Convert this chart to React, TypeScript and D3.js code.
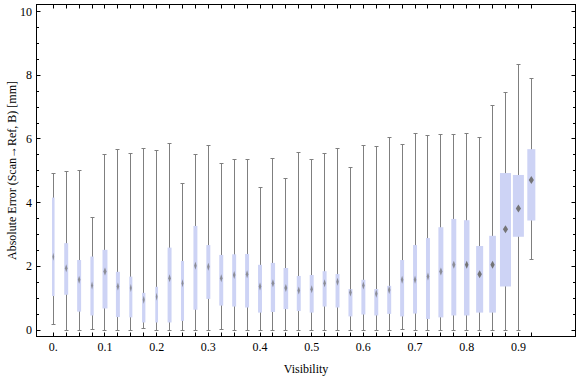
import React from "react";
import * as d3 from "d3";

// visibility bins (box positions)
const positions: number[] = d3.range(38).map((i) => +(i * 0.025).toFixed(3));
const mins: number[] = [0.19, 0, 0, 0.03, 0, 0, 0, 0.05, 0, 0, 0, 0, 0, 0.03, 0, 0, 0, 0, 0, 0, 0, 0, 0, 0, 0, 0, 0, 0.03, 0, 0, 0, 0, 0, 0, 0, 0, 0, 2.23];
const q1s: number[] = [1.07, 1.11, 0.58, 0.46, 0.68, 0.41, 0.4, 0.24, 0.24, 0.24, 0.29, 0.64, 0.98, 0.77, 0.74, 0.71, 0.55, 0.57, 0.66, 0.6, 0.55, 0.74, 0.71, 0.43, 0.49, 0.46, 0.51, 0.43, 0.52, 0.35, 0.4, 0.46, 0.46, 0.55, 0.55, 1.37, 2.93, 3.44];
const medians: number[] = [2.3, 1.94, 1.58, 1.4, 1.84, 1.37, 1.32, 0.95, 1.05, 1.63, 1.47, 2.02, 1.99, 1.63, 1.73, 1.75, 1.37, 1.47, 1.32, 1.24, 1.28, 1.47, 1.52, 1.18, 1.4, 1.14, 1.26, 1.58, 1.58, 1.68, 1.84, 2.05, 2.05, 1.75, 2.05, 3.17, 3.82, 4.71];
const q3s: number[] = [4.16, 2.73, 2.2, 2.31, 2.52, 1.83, 1.68, 1.17, 1.36, 2.59, 2.17, 3.27, 2.67, 2.36, 2.38, 2.39, 2.05, 2.11, 1.95, 1.7, 1.73, 1.85, 1.76, 1.29, 1.58, 1.29, 1.39, 2.2, 2.67, 2.89, 3.23, 3.49, 3.45, 2.64, 2.96, 4.93, 4.87, 5.68];
const maxs: number[] = [4.92, 4.97, 5.02, 3.54, 5.52, 5.67, 5.53, 5.7, 5.63, 5.86, 4.59, 5.5, 5.78, 5.23, 5.34, 5.37, 4.48, 5.39, 4.76, 5.58, 5.37, 5.55, 5.7, 5.11, 5.8, 5.75, 6.05, 5.83, 6.18, 6.11, 6.14, 6.14, 6.18, 6.05, 7.06, 7.46, 8.34, 7.9];
// relative box weights (box width is proportional)
const weights: number[] = [0.23, 0.36, 0.36, 0.3, 0.45, 0.36, 0.28, 0.3, 0.25, 0.36, 0.28, 0.36, 0.36, 0.36, 0.36, 0.36, 0.36, 0.39, 0.42, 0.36, 0.36, 0.36, 0.36, 0.36, 0.36, 0.36, 0.36, 0.36, 0.36, 0.36, 0.45, 0.45, 0.5, 0.64, 0.61, 1, 1, 0.73];

const xTickLabels: number[] = [0, 0.1, 0.2, 0.3, 0.4, 0.5, 0.6, 0.7, 0.8, 0.9];
const yTickLabels: number[] = [0, 2, 4, 6, 8, 10];
const yMinorTicks: number[] = d3.range(0, 10.01, 0.5);

const W = 576;
const H = 377;
const L = 36.5, R = 575.5, T = 4.5, B = 336.5;

export default function App() {
  const x = d3.scaleLinear().domain([-0.0325, 1.0105]).range([L, R]);
  const y = d3.scaleLinear().domain([-0.2, 10.22]).range([B, T]);
  const wScale = d3.scaleLinear().domain([0, 1]).range([0, 11]);
  const font = "'Liberation Serif', 'Times New Roman', serif";
  const fmt = (v: number) => (v === 0 ? "0." : String(v));
  const snap = (v: number) => Math.round(v) + 0.5;

  return (
    <svg width={W} height={H} style={{ position: "absolute", left: 0, top: 0, background: "#fff" }}>
      <rect x={0} y={0} width={W} height={H} fill="#fff" />
      {positions.map((p, i) => {
        const cx = x(p);
        const bw = wScale(weights[i]);
        const lx = snap(cx - 0.5);
        const dw = Math.min(2.6, Math.max(0.9, bw * 0.32));
        const my = y(medians[i]);
        return (
          <g key={i}>
            <line x1={lx} x2={lx} y1={y(mins[i])} y2={y(maxs[i])} stroke="#7f7f7f" strokeWidth={1} />
            <line x1={lx - 2} x2={lx + 2} y1={snap(y(mins[i]) - 0.5)} y2={snap(y(mins[i]) - 0.5)} stroke="#7f7f7f" strokeWidth={1} />
            <line x1={lx - 2} x2={lx + 2} y1={snap(y(maxs[i]) - 0.5)} y2={snap(y(maxs[i]) - 0.5)} stroke="#7f7f7f" strokeWidth={1} />
            <rect x={cx - bw / 2} y={y(q3s[i])} width={bw} height={y(q1s[i]) - y(q3s[i])} fill="#cdd3f5" />
            <path
              d={`M${cx},${my - 4}L${cx + dw},${my}L${cx},${my + 4}L${cx - dw},${my}Z`}
              fill="#6f6f6f"
              opacity={bw > 5 ? 0.95 : 0.7}
            />
          </g>
        );
      })}
      {/* frame */}
      <rect x={L} y={T} width={R - L} height={B - T} fill="none" stroke="#000" strokeWidth={1} />
      {/* bottom & top ticks */}
      {positions.map((p, i) => {
        const tx = snap(x(p) - 0.5);
        return (
          <g key={"xt" + i}>
            <line x1={tx} x2={tx} y1={B} y2={B - 4} stroke="#000" />
            <line x1={tx} x2={tx} y1={T} y2={T + 4} stroke="#000" />
          </g>
        );
      })}
      {/* left & right ticks */}
      {yMinorTicks.map((v, i) => {
        const ty = snap(y(v) - 0.5);
        const major = Math.abs(v - Math.round(v / 2) * 2) < 1e-6;
        const len = major ? 4 : 2.5;
        return (
          <g key={"yt" + i}>
            <line x1={L} x2={L + len} y1={ty} y2={ty} stroke="#000" />
            <line x1={R} x2={R - len} y1={ty} y2={ty} stroke="#000" />
          </g>
        );
      })}
      {xTickLabels.map((v) => (
        <text key={"xl" + v} x={x(v)} y={351} textAnchor="middle" fontFamily={font} fontSize={12} fill="#000">
          {fmt(v)}
        </text>
      ))}
      {yTickLabels.map((v) => (
        <text key={"yl" + v} x={32} y={y(v) + 4} textAnchor="end" fontFamily={font} fontSize={12} fill="#000">
          {v}
        </text>
      ))}
      <text x={(L + R) / 2} y={373} textAnchor="middle" fontFamily={font} fontSize={12} fill="#000">
        Visibility
      </text>
      <text
        transform={`translate(16,${(T + B) / 2}) rotate(-90)`}
        textAnchor="middle"
        fontFamily={font}
        fontSize={12}
        fill="#000"
      >
        Absolute Error (Scan→Ref, B) [mm]
      </text>
    </svg>
  );
}
